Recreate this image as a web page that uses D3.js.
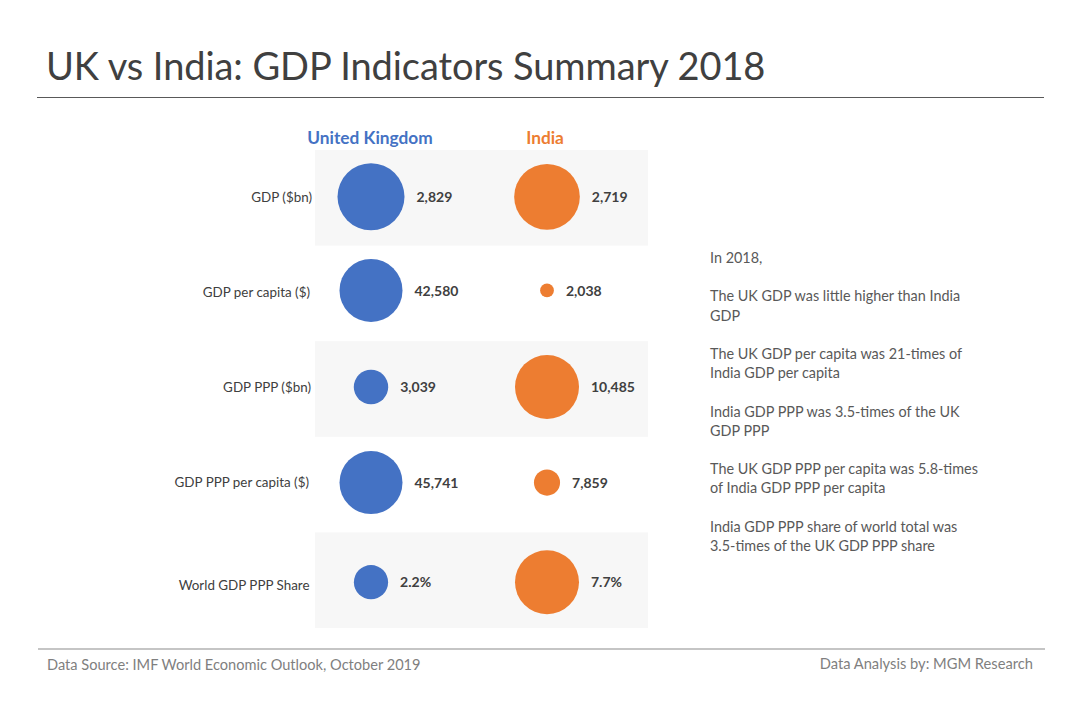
<!DOCTYPE html>
<html>
<head>
<meta charset="utf-8">
<title>UK vs India: GDP Indicators Summary 2018</title>
<script src="https://cdn.jsdelivr.net/npm/d3@7"></script>
<style>
  html, body { margin: 0; padding: 0; background: #fff; }
  svg { display: block; }
  text { font-family: Lato, "Open Sans", sans-serif; }
</style>
</head>
<body>
<svg id="chart" width="1080" height="720"></svg>
<script>
const titleText = 'UK vs India: GDP Indicators Summary 2018';
const indicators = ['GDP ($bn)', 'GDP per capita ($)', 'GDP PPP ($bn)', 'GDP PPP per capita ($)', 'World GDP PPP Share'];
const countries = ['United Kingdom', 'India'];
const ukValues = [2829, 42580, 3039, 45741, 2.2];
const indiaValues = [2719, 2038, 10485, 7859, 7.7];
const notes = [
  ['In 2018,'],
  ['The UK GDP was little higher than India', 'GDP'],
  ['The UK GDP per capita was 21-times of', 'India GDP per capita'],
  ['India GDP PPP was 3.5-times of the UK', 'GDP PPP'],
  ['The UK GDP PPP per capita was 5.8-times', 'of India GDP PPP per capita'],
  ['India GDP PPP share of world total was', '3.5-times of the UK GDP PPP share']
];
const sourceText = 'Data Source: IMF World Economic Outlook, October 2019';
const creditText = 'Data Analysis by: MGM Research';

const BLUE = '#4472c4', ORANGE = '#ed7d31', DARK = '#404040', GREY = '#7f7f7f';

const svg = d3.select('#chart');

// rows share one band scale, columns one point scale
const y = d3.scaleBand().domain(indicators).range([150, 628]).padding(0);
const x = d3.scalePoint().domain(countries).range([371, 547]);

// every row has its own size scale, the bubble is only compared inside the row
const rowMaxRadius = [33.5, 31.5, 32, 31.5, 32];
const circleNudge = [-1, -3, -2, -2, 2];
const valueNudge = [-1, -2, -2, -2, 2];
const labelNudge = [-1, -1, -2, -3, 5];
const labelRight = [312, 310, 311, 309, 309.5];

const rows = indicators.map((name, i) => ({
  name, i,
  r: d3.scaleSqrt().domain([0, Math.max(ukValues[i], indiaValues[i])]).range([0, rowMaxRadius[i]]),
  fmt: name.includes('Share') ? (v => v.toFixed(1) + '%') : d3.format(',')
}));
const cy = d => y(d.name) + y.bandwidth() / 2;

// title and rules
svg.append('text').attr('x', 46).attr('y', 80)
  .attr('font-size', 38).attr('letter-spacing', -0.08).attr('fill', DARK).text(titleText);
svg.append('line').attr('x1', 37).attr('x2', 1044).attr('y1', 97.5).attr('y2', 97.5)
  .attr('stroke', '#595959').attr('stroke-width', 1);
svg.append('line').attr('x1', 38).attr('x2', 1045).attr('y1', 649).attr('y2', 649)
  .attr('stroke', '#8c8c8c').attr('stroke-width', 1.2);

// alternating background bands
svg.append('g').selectAll('rect')
  .data(rows.filter(d => d.i % 2 === 0))
  .join('rect')
  .attr('x', 315).attr('width', 333)
  .attr('y', d => y(d.name)).attr('height', y.bandwidth())
  .attr('fill', '#f7f7f7');

// column headers
svg.append('g').selectAll('text')
  .data(countries)
  .join('text')
  .attr('x', (d, i) => x(d) - (i ? 2 : 1)).attr('y', 144)
  .attr('text-anchor', 'middle')
  .attr('font-size', 17.3).attr('font-weight', 700)
  .attr('fill', (d, i) => i ? ORANGE : BLUE)
  .text(d => d);

// row labels
svg.append('g').selectAll('text')
  .data(rows)
  .join('text')
  .attr('x', d => labelRight[d.i])
  .attr('y', d => cy(d) + 5 + labelNudge[d.i])
  .attr('text-anchor', 'end')
  .attr('font-size', 13.4).attr('fill', DARK)
  .text(d => d.name);

// one bubble and one value per country per row
[ukValues, indiaValues].forEach((values, c) => {
  const g = svg.append('g');
  const cx = x(countries[c]);
  g.selectAll('circle')
    .data(rows)
    .join('circle')
    .attr('cx', cx)
    .attr('cy', d => cy(d) + circleNudge[d.i])
    .attr('r', d => d.r(values[d.i]))
    .attr('fill', c ? ORANGE : BLUE);
  g.selectAll('text')
    .data(rows)
    .join('text')
    .attr('x', d => cx + d.r(values[d.i]) + 12)
    .attr('y', d => cy(d) + 5 + valueNudge[d.i])
    .attr('font-size', 14).attr('font-weight', 700).attr('fill', DARK)
    .text(d => d.fmt(values[d.i]));
});

// commentary on the right
const noteLines = [];
let lineY = 263;
notes.forEach(block => {
  block.forEach(line => { noteLines.push({ line, y: lineY }); lineY += 19.2; });
  lineY += 19.2;
});
svg.append('g').selectAll('text')
  .data(noteLines)
  .join('text')
  .attr('x', 710).attr('y', d => d.y)
  .attr('font-size', 14.4).attr('fill', '#595959')
  .text(d => d.line);

// footer
svg.append('text').attr('x', 47).attr('y', 670)
  .attr('font-size', 14.6).attr('fill', GREY).text(sourceText);
svg.append('text').attr('x', 1033).attr('y', 669)
  .attr('text-anchor', 'end')
  .attr('font-size', 14.7).attr('fill', GREY).text(creditText);
</script>
</body>
</html>
